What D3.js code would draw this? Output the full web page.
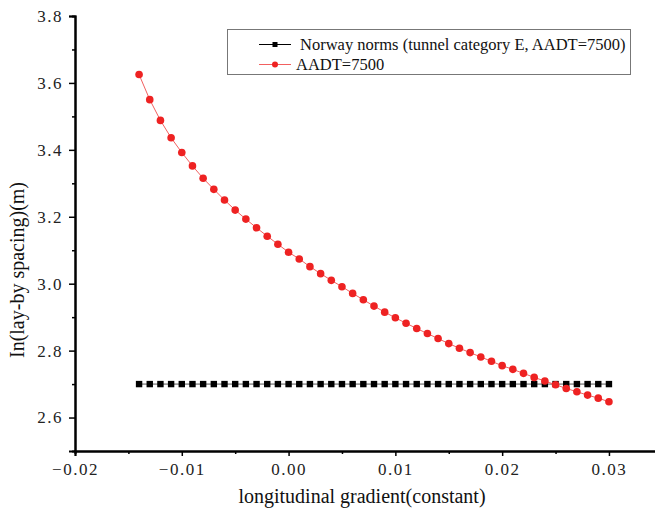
<!DOCTYPE html>
<html>
<head>
<meta charset="utf-8">
<script src="https://cdn.jsdelivr.net/npm/d3@7"></script>
<style>
html,body{margin:0;padding:0;background:#fff;}
svg{display:block;}
svg text{font-family:'Liberation Serif','Times New Roman',serif;}
</style>
</head>
<body>
<svg id="chart" width="655" height="518"></svg>
<script>
// ---- data ----
const gradients = [-0.014,-0.013,-0.012,-0.011,-0.010,-0.009,-0.008,-0.007,-0.006,-0.005,
  -0.004,-0.003,-0.002,-0.001,0.000,0.001,0.002,0.003,0.004,0.005,0.006,0.007,0.008,0.009,
  0.010,0.011,0.012,0.013,0.014,0.015,0.016,0.017,0.018,0.019,0.020,0.021,0.022,0.023,
  0.024,0.025,0.026,0.027,0.028,0.029,0.030];
const aadtValues = [3.625,3.550,3.488,3.436,3.392,3.352,3.315,3.282,3.250,3.220,
  3.193,3.167,3.142,3.118,3.094,3.074,3.051,3.030,3.010,2.991,2.971,2.952,2.933,2.915,
  2.898,2.882,2.866,2.851,2.836,2.821,2.807,2.794,2.781,2.768,2.755,2.744,2.732,2.720,
  2.709,2.698,2.687,2.677,2.667,2.658,2.647];
const normValues = gradients.map(() => 2.7);
const seriesNames = ["Norway norms (tunnel category E, AADT=7500)", "AADT=7500"];
const xTicks = [-0.02,-0.01,0.00,0.01,0.02,0.03];
const yTicks = [2.6,2.8,3.0,3.2,3.4,3.6,3.8];
const xTitle = "longitudinal gradient(constant)";
const yTitle = "In(lay-by spacing)(m)";

// ---- layout ----
const svg = d3.select("#chart");
const x = d3.scaleLinear().domain([-0.02, 0.0345]).range([75, 657]);
const y = d3.scaleLinear().domain([2.5, 3.8]).range([451, 16]);
const serif = "'Liberation Serif','Times New Roman',serif";

const xMinor = d3.range(-0.015, 0.034, 0.01);
const yMinor = d3.range(2.7, 3.8, 0.2);

function styleAxis(g) {
  g.attr("font-family", null).attr("font-size", null);
  g.select(".domain").attr("stroke", "#000").attr("stroke-width", 2);
  g.selectAll(".tick line").attr("stroke", "#000").attr("stroke-width", 1.5);
}

const gx = svg.append("g").attr("transform", `translate(0,${y(2.5)})`)
  .call(d3.axisBottom(x).tickValues(xMinor).tickSize(3).tickFormat(""));
const gx2 = svg.append("g").attr("transform", `translate(0,${y(2.5)})`)
  .call(d3.axisBottom(x).tickValues(xTicks).tickSize(5).tickPadding(6)
    .tickFormat(d => d3.format(".2f")(d)));
[gx, gx2].forEach(styleAxis);
gx2.selectAll(".tick text").style("font-family", serif).style("font-size", "17px")
  .attr("fill", "#222").attr("letter-spacing", "1.5px").attr("dy", "0.75em");

const gy = svg.append("g").attr("transform", `translate(${x(-0.02)},0)`)
  .call(d3.axisLeft(y).tickValues(yMinor).tickSize(3).tickFormat(""));
const gy2 = svg.append("g").attr("transform", `translate(${x(-0.02)},0)`)
  .call(d3.axisLeft(y).tickValues(yTicks).tickSize(6).tickPadding(6).tickFormat(d3.format(".1f")));
[gy, gy2].forEach(styleAxis);
gy2.selectAll(".tick text").style("font-family", serif).style("font-size", "17px")
  .attr("fill", "#222").attr("letter-spacing", "1.5px");

// axis titles
svg.append("text").attr("x", 362).attr("y", 503).attr("text-anchor", "middle")
  .style("font-family", serif).style("font-size", "20px").attr("fill", "#111").text(xTitle);
svg.append("text").attr("transform", "translate(24,270) rotate(-90)").attr("text-anchor", "middle")
  .style("font-family", serif).style("font-size", "20px").attr("fill", "#111").text(yTitle);

// ---- series ----
const normData = gradients.map((g, i) => [g, normValues[i]]);
const aadtData = gradients.map((g, i) => [g, aadtValues[i]]);
const line = d3.line().x(d => x(d[0])).y(d => y(d[1]));

svg.append("path").datum(normData).attr("d", line).attr("fill", "none")
  .attr("stroke", "#555").attr("stroke-width", 1);
svg.append("g").selectAll("rect").data(normData).join("rect")
  .attr("x", d => x(d[0]) - 3.2).attr("y", d => y(d[1]) - 3.2)
  .attr("width", 6.4).attr("height", 6.4).attr("fill", "#000");

svg.append("path").datum(aadtData).attr("d", line).attr("fill", "none")
  .attr("stroke", "#f26060").attr("stroke-width", 1);
svg.append("g").selectAll("circle").data(aadtData).join("circle")
  .attr("cx", d => x(d[0])).attr("cy", d => y(d[1])).attr("r", 3.8).attr("fill", "#ee2222");

// ---- legend ----
const lg = svg.append("g");
lg.append("rect").attr("x", 227.5).attr("y", 29.5).attr("width", 403).attr("height", 45)
  .attr("fill", "#fff").attr("stroke", "#777").attr("stroke-width", 1);
const rows = [{name: seriesNames[0], y: 44.5, type: "sq", tx: 300},
              {name: seriesNames[1], y: 64.5, type: "ci", tx: 296}];
rows.forEach(r => {
  lg.append("line").attr("x1", 259).attr("x2", 291).attr("y1", r.y).attr("y2", r.y)
    .attr("stroke", r.type === "sq" ? "#000" : "#f26060").attr("stroke-width", 1);
  if (r.type === "sq") lg.append("rect").attr("x", 272.5).attr("y", r.y - 2.5).attr("width", 5).attr("height", 5).attr("fill", "#000");
  else lg.append("circle").attr("cx", 275).attr("cy", r.y).attr("r", 3).attr("fill", "#ee2222");
  lg.append("text").attr("x", r.tx).attr("y", r.y + 5.5).style("font-family", serif)
    .style("font-size", "16.5px").attr("fill", "#111").text(r.name);
});
</script>
</body>
</html>
